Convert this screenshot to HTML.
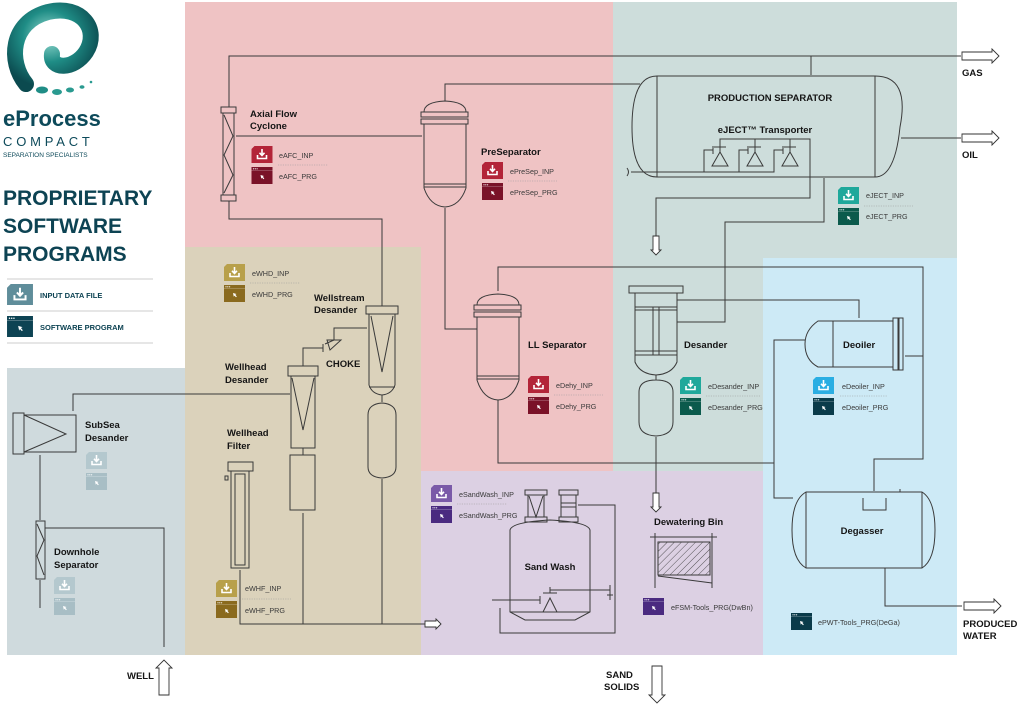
<!DOCTYPE html>
<html><head><meta charset="utf-8"><style>
html,body{margin:0;padding:0;background:#fff}
svg{display:block}
text{font-family:"Liberation Sans",sans-serif}
.l{font-size:9.5px;font-weight:bold;fill:#151515}
.t{font-size:7.2px;fill:#3a3a3a}
.p{fill:none;stroke:#3a3a3a;stroke-width:1}
.v{fill:none;stroke:#3a3a3a;stroke-width:1}
.d{stroke:#9a9a9a;stroke-width:0.6;stroke-dasharray:1.2 1.2}
</style></head><body>
<svg width="1024" height="706" viewBox="0 0 1024 706" xmlns="http://www.w3.org/2000/svg">
<defs>
<symbol id="inp" viewBox="0 0 21 17"><path d="M3,0 H21 V17 H0 V3 Z" fill="currentColor"/><path d="M10.5,3 V9 M8,6.8 L10.5,9.5 L13,6.8 M6,9 V12.5 H15 V9" stroke="#fff" stroke-width="1.6" fill="none"/></symbol>
<symbol id="prg" viewBox="0 0 21 17"><rect width="21" height="17" fill="currentColor"/><line x1="0" y1="3.6" x2="21" y2="3.6" stroke="#fff" stroke-opacity=".35" stroke-width=".6"/><circle cx="2" cy="1.8" r=".6" fill="#fff"/><circle cx="3.8" cy="1.8" r=".6" fill="#fff"/><circle cx="5.6" cy="1.8" r=".6" fill="#fff"/><path d="M9,8 L12.5,9 L11.3,9.8 L12.8,11.5 L12,12.2 L10.5,10.6 L9.8,11.8 Z" fill="#fff"/></symbol>
<radialGradient id="lg" cx="45%" cy="35%" r="70%"><stop offset="0" stop-color="#9fe0d6"/><stop offset=".5" stop-color="#1f8d86"/><stop offset="1" stop-color="#0b4a4f"/></radialGradient>
<pattern id="hat" width="5" height="5" patternUnits="userSpaceOnUse" patternTransform="rotate(45)"><line x1="0" y1="0" x2="0" y2="5" stroke="#333" stroke-width="0.8"/></pattern>
</defs>

<rect x="185" y="2" width="429" height="469" fill="#efc3c4"/>
<rect x="613" y="2" width="344" height="469" fill="#cddddb"/>
<rect x="763" y="258" width="194" height="397" fill="#cdeaf6"/>
<rect x="420" y="471" width="343" height="184" fill="#dcd0e3"/>
<rect x="185" y="247" width="236" height="408" fill="#dbd2bb"/>
<rect x="7" y="368" width="178" height="287" fill="#cfdadd"/>

<path d="M26,84 C8,62 10,22 48,12 C82,4 100,30 86,52 C74,70 50,70 52,54" fill="none" stroke="url(#lg)" stroke-width="16" stroke-linecap="round"/>
<ellipse cx="42" cy="90" rx="6" ry="3.5" fill="#1f8d86"/><ellipse cx="57" cy="92" rx="5" ry="3" fill="#2a9a90"/><ellipse cx="70" cy="90" rx="4" ry="2.5" fill="#2a9a90"/><ellipse cx="82" cy="87" rx="2.5" ry="1.8" fill="#2a9a90"/><circle cx="91" cy="82" r="1.3" fill="#2a9a90"/>
<text x="3" y="126" font-size="22" font-weight="bold" fill="#0d4a5a">eProcess</text>
<text x="3" y="146" font-size="13" fill="#0d4a5a" letter-spacing="3.8">COMPACT</text>
<text x="3" y="157" font-size="6.5" fill="#0d4a5a">SEPARATION SPECIALISTS</text>
<text x="3" y="205" font-size="21" font-weight="bold" fill="#0d4353">PROPRIETARY</text>
<text x="3" y="233" font-size="21" font-weight="bold" fill="#0d4353">SOFTWARE</text>
<text x="3" y="261" font-size="21" font-weight="bold" fill="#0d4353">PROGRAMS</text>
<line x1="7" y1="279" x2="153" y2="279" stroke="#ccc"/><line x1="7" y1="311" x2="153" y2="311" stroke="#ccc"/><line x1="7" y1="343" x2="153" y2="343" stroke="#ccc"/>
<use href="#inp" x="7" y="284" width="26" height="21" color="#5f8d9a"/>
<use href="#prg" x="7" y="316" width="26" height="21" color="#0d4353"/>
<text x="40" y="298" font-size="7.5" font-weight="bold" fill="#0d4353">INPUT DATA FILE</text>
<text x="40" y="330" font-size="7.5" font-weight="bold" fill="#0d4353">SOFTWARE PROGRAM</text>

<g class="p">
<path d="M229,107 V56 H961"/>
<path d="M811,56 V75"/>
<path d="M236,136 H422"/>
<path d="M445,101 V84 H640"/>
<path d="M229,201 V219 H382 V306"/>
<path d="M445,208 V329 H477"/>
<path d="M810,178 V198 H656 V236"/>
<path d="M824,178 V222 H725 V322 H677"/>
<path d="M901,138 H961"/>
<path d="M498,291 V267 H923 V459 H874 V491"/>
<path d="M905,356 H923"/>
<path d="M677,300 H859 V318"/>
<path d="M805,340 H774 V498 H793"/>
<path d="M498,400 V463 H774"/>
<path d="M656,437 V493"/>
<path d="M885,568 V606 H962"/>
<path d="M73,411 V394 H290"/>
<path d="M367,328 H334 V340"/>
<path d="M323,348 H303 V366"/>
<path d="M382,479 V624"/>
<path d="M303,513 V624"/>
<path d="M240,570 V624 H425"/>
<path d="M40,455 V520"/>
<path d="M40,580 V608"/>
<path d="M164,647 V528 H45"/>
</g>

<g fill="#fff" stroke="#333" stroke-width="0.9">
<path d="M962,52 H992 V49 L999,56 L992,63 V60 H962 Z"/>
<path d="M962,134 H992 V131 L999,138 L992,145 V142 H962 Z"/>
<path d="M964,602 H994 V599 L1001,606 L994,613 V610 H964 Z"/>
<path d="M425,621 H436 V619 L441,624 L436,629 V627 H425 Z"/>
<path d="M653,236 H659 V250 H661 L656,255 L651,250 H653 Z"/>
<path d="M653,493 H659 V507 H661 L656,512 L651,507 H653 Z"/>
<path d="M159,695 V668 H156 L164,660 L172,668 H169 V695 Z"/>
<path d="M652,666 V695 H649 L657,703 L665,695 H662 V666 Z"/>
</g>
<text x="962" y="76" class="l" font-size="10">GAS</text>
<text x="962" y="158" class="l" font-size="10">OIL</text>
<text x="963" y="627" class="l" font-size="10">PRODUCED</text>
<text x="963" y="639" class="l" font-size="10">WATER</text>
<text x="127" y="679" class="l" font-size="10">WELL</text>
<text x="606" y="678" class="l" font-size="10">SAND</text>
<text x="604" y="690" class="l" font-size="10">SOLIDS</text>

<g class="v">
<path d="M657,76 H875 Q910,76 900,127 Q895,177 875,177 H657 Q632,177 632,127 Q632,76 657,76 Z"/>
<line x1="657" y1="76" x2="657" y2="177"/><line x1="875" y1="76" x2="875" y2="177"/>
<path d="M627,168 Q630,172 627,176 M631,172 H704 V150 H713 M704,172 H739 V150 H748 M739,172 H774 V150 H783"/>
<path d="M720,152 V139 H810 V178 M755,152 V139 M790,152 V139"/>
<path d="M713,146 V154 M748,146 V154 M783,146 V154 M714,147 H726 M749,147 H761 M784,147 H796"/>
<path d="M720,152 L712,166 H728 Z M755,152 L747,166 H763 Z M790,152 L782,166 H798 Z"/>
</g>
<text x="770" y="101" class="l" font-size="10.5" text-anchor="middle">PRODUCTION SEPARATOR</text>
<text x="765" y="133" class="l" text-anchor="middle">eJECT™ Transporter</text>

<g class="v">
<rect x="221" y="107" width="15" height="6"/><rect x="221" y="195" width="15" height="6"/>
<rect x="223" y="113" width="11" height="82"/>
<path d="M224,115 L233,136 L224,155 L233,175 L224,193"/>
</g>
<text x="250" y="117" class="l">Axial Flow</text><text x="250" y="129" class="l">Cyclone</text>

<g class="v">
<path d="M424,112 Q424,102 445,101 Q466,102 466,112"/>
<rect x="421" y="112" width="47" height="5"/><rect x="421" y="119" width="47" height="5"/>
<path d="M424,124 V188 Q430,206 445,207 Q460,206 466,188 V124"/>
<line x1="424" y1="184" x2="466" y2="184"/><line x1="424" y1="187" x2="466" y2="187"/>
</g>
<text x="481" y="155" class="l">PreSeparator</text>

<g class="v">
<path d="M477,305 Q477,295 498,294 Q519,295 519,305"/>
<rect x="474" y="305" width="47" height="5"/><rect x="474" y="312" width="47" height="5"/>
<path d="M477,317 V380 Q483,399 498,400 Q513,399 519,380 V317"/>
<line x1="477" y1="376" x2="519" y2="376"/><line x1="477" y1="379" x2="519" y2="379"/>
</g>
<text x="528" y="348" class="l">LL Separator</text>

<g class="v">
<rect x="629" y="286" width="54" height="7"/>
<path d="M635,293 V362 Q640,374 656,375 Q672,374 677,362 V293"/>
<line x1="635" y1="307" x2="677" y2="307"/><line x1="635" y1="310" x2="677" y2="310"/>
<line x1="635" y1="351" x2="677" y2="351"/><line x1="635" y1="355" x2="677" y2="355"/>
<rect x="653" y="307" width="6" height="48"/>
<path d="M656,375 V380 M639,392 Q639,380 656,380 Q673,380 673,392 V422 Q673,435 656,436 Q639,435 639,422 Z"/>
</g>
<text x="684" y="348" class="l">Desander</text>

<g class="v">
<path d="M893,321 H818 Q805,330 805,344 Q805,360 818,367 H893 Z"/>
<line x1="833" y1="321" x2="833" y2="367"/>
<rect x="893" y="318" width="5" height="52"/><rect x="899" y="318" width="4" height="52"/>
</g>
<text x="843" y="348" class="l">Deoiler</text>

<g class="v">
<path d="M806,492 H922 Q935,500 935,530 Q935,560 922,568 H806 Q792,560 792,530 Q792,500 806,492 Z"/>
<line x1="806" y1="492" x2="806" y2="568"/><line x1="922" y1="492" x2="922" y2="568"/>
<path d="M863,498 V510 H886 V498"/>
<path d="M900,489 V492"/>
</g>
<text x="862" y="534" class="l" text-anchor="middle">Degasser</text>

<g class="v">
<path d="M655,533 V588 M712,533 V588 M650,537 H717"/>
<rect x="658" y="542" width="52" height="33" fill="url(#hat)"/>
<path d="M658,576 L712,583"/>
</g>
<text x="654" y="525" class="l">Dewatering Bin</text>

<g class="v">
<path d="M510,530 Q512,522 550,520 Q588,522 590,530 V612 L575,620 H525 L510,612 Z"/>
<line x1="510" y1="612" x2="590" y2="612"/>
<rect x="525" y="490" width="22" height="5"/><rect x="525" y="517" width="22" height="5"/>
<path d="M528,495 V517 M544,495 V517 M529,496 L536,517 L543,496"/>
<rect x="559" y="490" width="19" height="5"/><rect x="559" y="517" width="19" height="5"/>
<path d="M561,495 V517 M576,495 V517 M561,503 H576 M561,507 H576"/>
<path d="M578,505 H615 V633 H500 V608 M492,600 H540 M540,596 V604 M550,593 V587 M543,593 H557"/>
<path d="M550,598 L543,612 H557 Z"/>
<path d="M550,587 V592 M550,590 H610 M610,585 V600 M607,595 H613"/>
</g>
<text x="550" y="570" class="l" text-anchor="middle">Sand Wash</text>

<g class="v">
<rect x="366" y="306" width="32" height="8"/>
<path d="M369,314 V385 Q372,394 382,395 Q392,394 395,385 V314"/>
<path d="M371,316 L382,372 L393,316"/>
<line x1="369" y1="387" x2="395" y2="387"/>
<path d="M382,395 V402 M368,415 Q368,404 382,403 Q396,404 396,415 V467 Q396,477 382,478 Q368,477 368,467 Z"/>
</g>
<text x="314" y="301" class="l">Wellstream</text><text x="314" y="313" class="l">Desander</text>
<g class="v"><path d="M323,344 V352 M327,340 L341,340 L330,350 Z M325,344 L334,340"/></g>
<text x="326" y="367" class="l" font-size="10.5">CHOKE</text>

<g class="v">
<rect x="288" y="366" width="30" height="10"/>
<path d="M291,376 V448 H315 V376"/>
<path d="M292,378 L303,430 L314,378"/>
<path d="M303,448 V455"/>
<rect x="290" y="455" width="25" height="55"/>
</g>
<text x="225" y="370" class="l">Wellhead</text><text x="225" y="383" class="l">Desander</text>

<g class="v">
<rect x="228" y="462" width="25" height="9"/>
<rect x="231" y="471" width="18" height="97"/>
<rect x="235" y="474" width="10" height="91"/>
<rect x="225" y="476" width="3" height="4"/>
</g>
<text x="227" y="436" class="l">Wellhead</text><text x="227" y="449" class="l">Filter</text>

<g class="v">
<rect x="13" y="413" width="11" height="41"/>
<rect x="24" y="415" width="52" height="37"/>
<path d="M24,415 L66,434 L24,452"/>
</g>
<text x="85" y="428" class="l">SubSea</text><text x="85" y="441" class="l">Desander</text>

<g class="v">
<rect x="36" y="521" width="9" height="58"/>
<path d="M37,524 L44,540 L37,556 L44,575"/>
</g>
<text x="54" y="555" class="l">Downhole</text><text x="54" y="568" class="l">Separator</text>

<g>
<use href="#inp" x="251" y="146" width="22" height="17" color="#b32438"/><use href="#prg" x="251" y="167" width="22" height="17" color="#7a1228"/>
<line class="d" x1="278" y1="165" x2="328" y2="165"/>
<text class="t" x="279" y="158">eAFC_INP</text><text class="t" x="279" y="179">eAFC_PRG</text>

<use href="#inp" x="482" y="162" width="21" height="17" color="#b32438"/><use href="#prg" x="482" y="183" width="21" height="17" color="#7a1228"/>
<line class="d" x1="508" y1="181" x2="557" y2="181"/>
<text class="t" x="510" y="174">ePreSep_INP</text><text class="t" x="510" y="195">ePreSep_PRG</text>

<use href="#inp" x="528" y="376" width="21" height="17" color="#b32438"/><use href="#prg" x="528" y="397" width="21" height="17" color="#7a1228"/>
<line class="d" x1="554" y1="395" x2="603" y2="395"/>
<text class="t" x="556" y="388">eDehy_INP</text><text class="t" x="556" y="409">eDehy_PRG</text>

<use href="#inp" x="680" y="377" width="21" height="17" color="#1fa89b"/><use href="#prg" x="680" y="398" width="21" height="17" color="#0b5a4c"/>
<line class="d" x1="706" y1="396" x2="760" y2="396"/>
<text class="t" x="708" y="389">eDesander_INP</text><text class="t" x="708" y="410">eDesander_PRG</text>

<use href="#inp" x="838" y="187" width="21" height="17" color="#1fa89b"/><use href="#prg" x="838" y="208" width="21" height="17" color="#0b5a4c"/>
<line class="d" x1="864" y1="206" x2="913" y2="206"/>
<text class="t" x="866" y="198">eJECT_INP</text><text class="t" x="866" y="219">eJECT_PRG</text>

<use href="#inp" x="813" y="377" width="21" height="17" color="#2aaee3"/><use href="#prg" x="813" y="398" width="21" height="17" color="#0a3b4a"/>
<line class="d" x1="840" y1="396" x2="887" y2="396"/>
<text class="t" x="842" y="389">eDeoiler_INP</text><text class="t" x="842" y="410">eDeoiler_PRG</text>

<use href="#prg" x="791" y="613" width="21" height="17" color="#0a3b4a"/>
<text class="t" x="818" y="625">ePWT-Tools_PRG(DeGa)</text>

<use href="#inp" x="431" y="485" width="21" height="17" color="#7a5aa8"/><use href="#prg" x="431" y="506" width="21" height="17" color="#4a2a80"/>
<line class="d" x1="457" y1="504" x2="507" y2="504"/>
<text class="t" x="459" y="497">eSandWash_INP</text><text class="t" x="459" y="518">eSandWash_PRG</text>

<use href="#prg" x="643" y="598" width="21" height="17" color="#4a2a80"/>
<text class="t" x="671" y="610">eFSM-Tools_PRG(DwBn)</text>

<use href="#inp" x="224" y="264" width="21" height="17" color="#b8a04a"/><use href="#prg" x="224" y="285" width="21" height="17" color="#8a6a1e"/>
<line class="d" x1="250" y1="283" x2="300" y2="283"/>
<text class="t" x="252" y="276">eWHD_INP</text><text class="t" x="252" y="297">eWHD_PRG</text>

<use href="#inp" x="216" y="580" width="21" height="17" color="#b8a04a"/><use href="#prg" x="216" y="601" width="21" height="17" color="#8a6a1e"/>
<line class="d" x1="242" y1="599" x2="291" y2="599"/>
<text class="t" x="245" y="591">eWHF_INP</text><text class="t" x="245" y="613">eWHF_PRG</text>

<use href="#inp" x="86" y="452" width="21" height="17" color="#b4c8ce"/><use href="#prg" x="86" y="473" width="21" height="17" color="#a8bec5"/>
<use href="#inp" x="54" y="577" width="21" height="17" color="#b4c8ce"/><use href="#prg" x="54" y="598" width="21" height="17" color="#a8bec5"/>
</g>
</svg>
</body></html>
